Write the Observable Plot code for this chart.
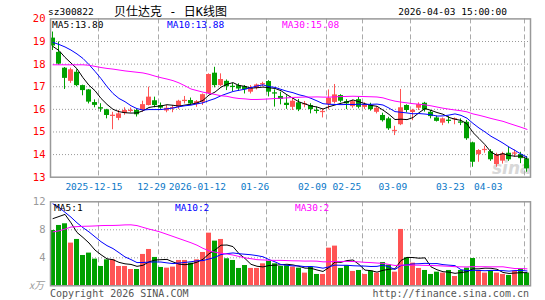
<!DOCTYPE html>
<html><head><meta charset="utf-8">
<script src="https://cdn.jsdelivr.net/npm/d3@7"></script>
<script src="https://cdn.jsdelivr.net/npm/@observablehq/plot@0.6"></script>
<style>
html,body{margin:0;padding:0;background:#fff;}
#wrap{position:relative;width:545px;height:300px;overflow:hidden;}
#wrap svg{position:absolute;left:0;}
</style></head><body><div id="wrap"></div>
<script>
// ---------- data ----------
const dates = [
"2025-12-03","2025-12-04","2025-12-05","2025-12-08","2025-12-09","2025-12-10","2025-12-11","2025-12-12","2025-12-15","2025-12-16",
"2025-12-17","2025-12-18","2025-12-19","2025-12-22","2025-12-23","2025-12-24","2025-12-25","2025-12-26","2025-12-29","2025-12-30",
"2025-12-31","2026-01-05","2026-01-06","2026-01-07","2026-01-08","2026-01-09","2026-01-12","2026-01-13","2026-01-14","2026-01-15",
"2026-01-16","2026-01-19","2026-01-20","2026-01-21","2026-01-22","2026-01-23","2026-01-26","2026-01-27","2026-01-28","2026-01-29",
"2026-01-30","2026-02-02","2026-02-03","2026-02-04","2026-02-05","2026-02-06","2026-02-09","2026-02-10","2026-02-11","2026-02-12",
"2026-02-13","2026-02-24","2026-02-25","2026-02-26","2026-02-27","2026-03-02","2026-03-03","2026-03-04","2026-03-05","2026-03-06",
"2026-03-09","2026-03-10","2026-03-11","2026-03-12","2026-03-13","2026-03-16","2026-03-17","2026-03-18","2026-03-19","2026-03-20",
"2026-03-23","2026-03-24","2026-03-25","2026-03-26","2026-03-27","2026-03-30","2026-03-31","2026-04-01","2026-04-02","2026-04-03"];

const open = [
19.15,18.52,17.82,17.24,17.64,17.05,16.86,16.30,16.07,15.98,
15.72,15.60,15.82,15.94,15.95,15.95,16.17,16.38,16.17,15.93,
16.06,16.09,16.38,16.39,16.21,16.31,16.69,17.60,17.05,17.24,
17.02,17.05,17.00,16.76,16.93,17.11,17.23,16.73,16.57,16.27,
16.09,16.29,16.23,16.17,15.96,15.89,16.21,16.31,16.61,16.34,
16.12,16.43,16.09,16.17,15.87,15.73,15.58,15.05,15.32,16.17,
15.86,16.05,16.27,15.87,15.62,15.39,15.52,15.57,15.44,15.43,
14.52,14.00,14.21,14.13,13.56,13.71,14.06,14.05,14.00,13.81];

const high = [
19.42,18.98,17.85,17.82,17.75,17.07,16.88,16.42,16.25,16.00,
15.87,15.95,16.07,16.06,16.00,16.36,16.98,16.54,16.28,16.17,
16.17,16.40,16.57,16.50,16.39,16.68,17.57,17.86,17.57,17.30,
17.15,17.13,17.05,17.05,17.12,17.20,17.27,16.86,16.76,16.60,
16.49,16.44,16.35,16.25,16.10,16.02,16.86,17.10,16.65,16.43,
16.41,16.53,16.29,16.27,16.12,15.83,15.65,15.25,16.88,16.20,
16.00,16.29,16.31,15.95,15.70,15.62,15.68,15.62,15.58,15.51,
14.55,14.22,14.37,14.22,14.06,14.10,14.33,14.20,14.10,13.91];

const low = [
18.60,17.95,16.88,17.15,17.00,16.60,16.24,16.07,15.87,15.58,
15.10,15.50,15.74,15.85,15.66,15.87,16.15,16.07,16.00,15.85,
15.85,16.00,16.24,16.17,16.09,16.17,16.66,16.95,17.00,16.83,
16.79,16.80,16.68,16.68,16.86,17.00,16.55,16.10,16.20,16.00,
15.95,15.90,16.07,15.80,15.80,15.62,15.98,16.24,16.29,15.99,
16.05,16.02,16.00,15.92,15.80,15.44,15.07,14.84,15.28,15.85,
15.50,15.95,15.88,15.58,15.44,15.28,15.36,15.32,15.28,14.63,
13.44,13.66,14.06,13.70,13.44,13.58,13.70,13.88,13.60,13.22];

const close = [
18.80,18.00,17.37,17.75,17.05,16.83,16.32,16.18,16.04,15.73,
15.74,15.80,15.95,15.96,15.76,16.21,16.54,16.17,16.06,16.05,
16.08,16.36,16.40,16.24,16.34,16.65,17.54,17.05,17.32,17.00,
17.00,16.90,16.87,16.93,17.08,17.14,16.76,16.71,16.44,16.17,
16.36,15.98,16.25,15.99,15.94,15.91,16.49,16.64,16.36,16.25,
16.34,16.09,16.21,15.99,16.05,15.50,15.14,15.07,16.07,15.95,
15.96,16.21,15.98,15.68,15.47,15.58,15.50,15.59,15.42,14.70,
13.66,14.18,14.23,13.77,14.00,14.03,13.77,14.07,13.82,13.37];

// volume in 万
const volume = [
7.90,8.62,8.86,6.10,6.62,4.33,4.67,3.81,2.76,3.71,
3.71,2.76,2.76,2.33,2.33,4.48,5.19,4.05,2.62,2.52,
2.67,3.62,3.62,3.24,3.71,4.76,7.52,6.38,6.62,3.86,
3.62,2.48,2.90,2.48,2.48,3.14,3.48,3.14,2.76,2.86,
2.67,2.52,1.81,2.67,1.62,1.62,5.38,5.67,2.48,2.86,
2.05,2.19,1.62,2.10,1.81,3.33,2.95,1.95,8.05,4.00,
3.24,2.48,2.19,1.62,1.95,1.81,2.19,1.33,2.19,2.52,
3.90,2.19,1.81,2.10,1.81,1.62,1.48,2.10,2.38,1.81];

// moving-average values before enough visible history exists
const ma5Lead  = [18.78,18.60,18.30,18.05];
const ma10Lead = [18.96,18.87,18.76,18.62,18.45,18.25,17.98,17.68,17.36];
const ma30Lead = [17.97,17.97,17.97,17.97,17.97,17.97,17.95,17.90,17.85,17.81,17.78,17.74,17.70,17.67,17.64,
                  17.61,17.55,17.47,17.40,17.34,17.27,17.17,17.04,16.90,16.83,16.76,16.71,16.66,16.60];
const volMa5Lead  = [9.6,9.9,10.2,9.0];
const volMa10Lead = [11.7,11.2,10.5,9.8,9.0,8.3,7.7,7.0,6.3];
const volMa30Lead = [7.7,7.85,8.1,8.4,8.45,8.5,8.52,8.55,8.6,8.62,8.62,8.65,8.7,8.71,8.6,
                     8.35,8.1,7.9,7.65,7.35,7.05,6.75,6.45,6.15,5.8,5.35,5.0,4.8,4.65];

const priceTicks = [13,14,15,16,17,18,19,20];
const volTicks = [4,8,12];
const labelDates = ["2025-12-15","2025-12-29","2026-01-12","2026-01-26","2026-02-09","2026-02-25","2026-03-09","2026-03-23","2026-04-03"];
const labelTexts = ["2025-12-15","12-29","2026-01-12","01-26","02-09","02-25","03-09","03-23","04-03"];
const code = "sz300822";
const title = "贝仕达克 - 日K线图";
const stamp = "2026-04-03 15:00:00";
const maLegend = ["MA5:13.80","MA10:13.88","MA30:15.08"];
const volLegend = ["MA5:1","MA10:2","MA30:2"];
const unitLabel = "x万";
const copyright = "Copyright 2026 SINA.COM";
const url = "http://finance.sina.com.cn";

// ---------- build ----------
const UP = "#ff5454", DOWN = "#00a000", C5 = "#000000", C10 = "#0000ff", C30 = "#ff00ff";
const MONO = "DejaVu Sans Mono, Liberation Mono, monospace";
const N = dates.length;
const rows = dates.map((d, i) => ({i, d, o: open[i], h: high[i], l: low[i], c: close[i], v: volume[i],
  col: close[i] >= open[i] ? UP : DOWN}));
function movingAverage(values, n, lead) {
  return values.map((_, i) => i < n - 1 ? lead[i] : d3.mean(values.slice(i - n + 1, i + 1)));
}
const series = (vals) => vals.map((y, i) => ({i, y}));
const pMA = [[movingAverage(close,5,ma5Lead),C5],[movingAverage(close,10,ma10Lead),C10],[movingAverage(close,30,ma30Lead),C30]];
const vMA = [[movingAverage(volume,5,volMa5Lead),C5],[movingAverage(volume,10,volMa10Lead),C10],[movingAverage(volume,30,volMa30Lead),C30]];
const gridIdx = labelDates.map(d => dates.indexOf(d));

const BW = 5/6;        // body width in slots
const WX = 2/6;        // wick offset
const MX = 2.5/6;      // line offset

// date label placement (labels sit slightly left of the grid lines, last one kept inside)
const x0 = 50, slot = 6, rightLimit = 502;
const dateLabels = labelDates.map((d, k) => {
  const gi = dates.indexOf(d);
  let cx = 0.958 * (x0 + slot * gi) - 0.4;
  const half = labelTexts[k].length * 5.7 / 2;
  if (cx + half > rightLimit) cx = rightLimit - half;
  return {x: (cx - x0) / slot, text: labelTexts[k]};
});

const wrap = document.getElementById("wrap");

// watermark layer
const bg = d3.select(wrap).append("svg").attr("width",545).attr("height",300).style("top","0px");
bg.append("text").attr("x",492).attr("y",174).attr("font-family","DejaVu Sans, sans-serif")
  .attr("font-size",17).attr("font-style","italic").attr("font-weight","bold").attr("fill","#d8d8d8").text("sina");

const common = {width: 545, marginLeft: 50, marginRight: 15,
  x: {type: "linear", domain: [0, N], axis: null},
  color: {type: "identity"},
  style: {background: "transparent", overflow: "visible"}};

const price = Plot.plot({
  ...common,
  height: 195, marginTop: 18.4, marginBottom: 195 - 176.7,
  y: {domain: [13, 20], axis: null},
  marks: [
    Plot.ruleY(priceTicks.filter(t => t > 13 && t < 20), {stroke: "#999", strokeDasharray: "1,2"}),
    Plot.ruleX(gridIdx, {x: d => d, stroke: "#aaa", strokeDasharray: "5,3"}),
    Plot.ruleX(rows, {x: d => d.i + WX, y1: "l", y2: "h", stroke: "col", strokeWidth: 1}),
    Plot.rect(rows, {x1: d => d.i, x2: d => d.i + BW, y1: "o", y2: "c", fill: "col"}),
    Plot.ruleY(rows, {x1: d => d.i, x2: d => d.i + BW, y: d => (d.o + d.c) / 2, stroke: "col", strokeWidth: 1}),
    ...pMA.map(([vals, col]) => Plot.line(series(vals), {x: d => d.i + MX, y: "y", stroke: col, strokeWidth: 1})),
    Plot.frame({stroke: "#999", strokeWidth: 1.5}),
    Plot.text(priceTicks, {x: () => 0, y: d => d, text: d => String(d), textAnchor: "end", dx: -5,
      fill: "#ff0000", fontFamily: MONO, fontSize: 10.5}),
    Plot.text(dateLabels, {x: "x", y: () => 13, dy: 9.5, text: "text", fill: "#0a78c8", fontFamily: MONO, fontSize: 9.5})
  ]
});
price.style.top = "0px";
wrap.appendChild(price);

const vol = Plot.plot({
  ...common,
  height: 105, marginTop: 6.3, marginBottom: 14.7,
  y: {domain: [0, 12], axis: null},
  marks: [
    Plot.ruleY(volTicks.filter(t => t < 12), {stroke: "#999", strokeDasharray: "1,2"}),
    Plot.ruleX(gridIdx, {x: d => d, stroke: "#aaa", strokeDasharray: "5,3"}),
    Plot.rect(rows, {x1: d => d.i, x2: d => d.i + BW, y1: () => 0, y2: "v", fill: "col"}),
    ...vMA.map(([vals, col]) => Plot.line(series(vals), {x: d => d.i + MX, y: "y", stroke: col, strokeWidth: 1})),
    Plot.frame({stroke: "#999", strokeWidth: 1.5}),
    Plot.text(volTicks, {x: () => 0, y: d => d, text: d => String(d), textAnchor: "end", dx: -5,
      fill: "#999", fontFamily: MONO, fontSize: 10.5})
  ]
});
vol.style.top = "195px";
wrap.appendChild(vol);

// text overlay
const ov = d3.select(wrap).append("svg").attr("width",545).attr("height",300).style("top","0px")
  .attr("font-family", MONO).attr("font-size", 9.5);
ov.append("text").attr("x",48).attr("y",15).attr("fill","#000").text(code);
ov.append("text").attr("x",114).attr("y",16).attr("fill","#000").attr("font-size",12)
  .attr("font-family","DejaVu Sans Mono, Noto Sans CJK SC, sans-serif").attr("xml:space","preserve").text(title);
ov.append("text").attr("x",507).attr("y",15).attr("text-anchor","end").attr("fill","#000").text(stamp);
const legCols = [C5, "#0000ff", C30];
const maX = [52, 167, 282], vmX = [54, 175, 295];
maLegend.forEach((t, k) => ov.append("text").attr("x", maX[k]).attr("y", 27.5).attr("fill", legCols[k]).text(t));
volLegend.forEach((t, k) => ov.append("text").attr("x", vmX[k]).attr("y", 210.5).attr("fill", legCols[k]).text(t));
ov.append("text").attr("x",29).attr("y",289).attr("fill","#999").attr("font-style","italic")
  .attr("font-family","Noto Sans CJK SC, sans-serif").attr("font-size",10).text(unitLabel);
ov.append("text").attr("x",50).attr("y",297).attr("fill","#555").attr("font-size",10).text(copyright);
ov.append("text").attr("x",529).attr("y",297).attr("text-anchor","end").attr("fill","#555").attr("font-size",10).text(url);
</script></body></html>
